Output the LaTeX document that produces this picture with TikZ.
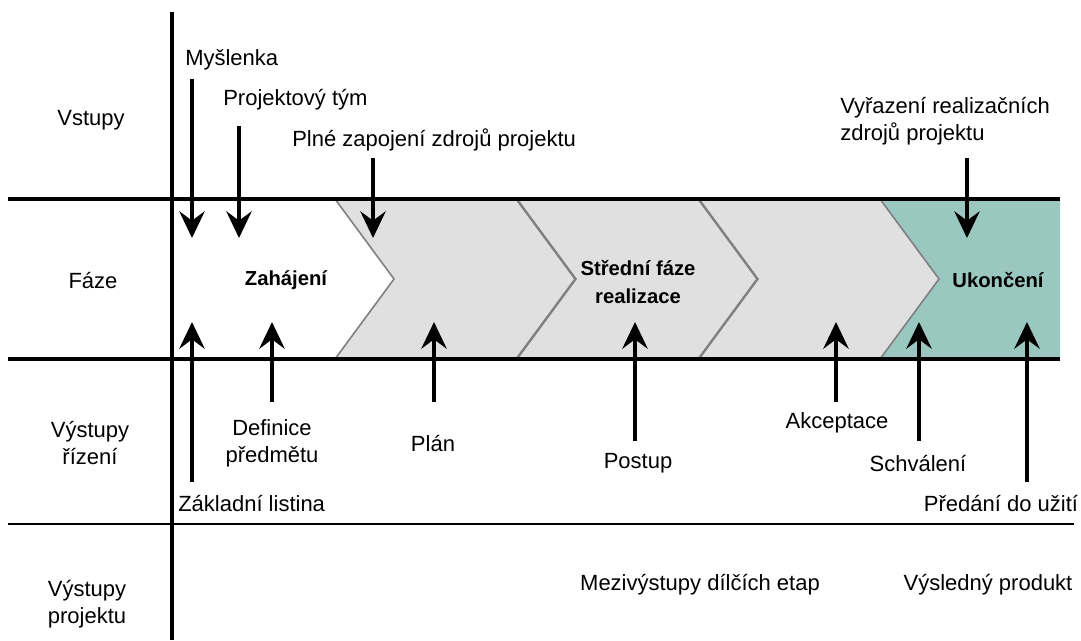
\documentclass[tikz,border=0pt]{standalone}
\usepackage{fontspec}
\setmainfont{Liberation Sans}
\usetikzlibrary{arrows.meta}
\definecolor{phasegray}{RGB}{224,224,224}
\definecolor{phaseedge}{RGB}{128,128,128}
\definecolor{phaseteal}{RGB}{154,199,191}
\tikzset{
  lbl/.style={inner sep=0pt, align=center, font=\fontsize{16.5}{20}\selectfont},
  phase/.style={inner sep=0pt, align=center, font=\fontsize{15.2}{21.5}\selectfont\bfseries},
  rule/.style={line width=3pt},
  arr/.style={line width=3pt, -{Stealth[length=20pt,width=19pt,inset=7pt]}},
}
\begin{document}
\begin{tikzpicture}[x=0.75pt,y=-0.75pt]
                    \useasboundingbox (0,0) rectangle (1081,640);

                    \fill [phaseteal] (880,199) -- (1060,199) -- (1060,359) -- (880,359) -- (939,279) -- cycle;
                    \foreach \x in {335,517,699}
                        \filldraw [fill=phasegray, draw=phaseedge, line width=1.2pt]
                            (\x,199) -- (\x+181,199) -- (\x+240,279) -- (\x+181,359) -- (\x,359) -- (\x+59,279) -- cycle;

                    \draw [rule] (8,199) -- (1060,199);
                    \draw [rule] (8,359) -- (1060,359);
                    \draw [line width=1.5pt] (8,524) -- (1074,524);
                    \draw [rule] (172,12) -- (172,640);

                    \node (vstupy) [lbl] at (91,120) {Vstupy};
                    \node (faze) [lbl] at (93,280) {Fáze};
                    \node (vyrizeni) [lbl] at (90,443) {Výstupy\\řízení};
                    \node (vyprojekt) [lbl] at (87,604) {Výstupy\\projektu};

                    \node (zahajeni) [phase] at (286,280) {Zahájení};
                    \node (stredni) [phase] at (638,282) {Střední fáze\\realizace};
                    \node (ukonceni) [phase] at (998,280) {Ukončení};

                    \node (myslenka) [lbl, anchor=west] at (185,60) {Myšlenka};
                    \node (tym) [lbl, anchor=west] at (223,100) {Projektový tým};
                    \node (zapojeni) [lbl, anchor=west] at (292,140) {Plné zapojení zdrojů projektu};
                    \node (vyrazeni) [lbl, anchor=west, align=left] at (840,121) {Vyřazení realizačních\\zdrojů projektu};

                    \node (definice) [lbl] at (272,443) {Definice\\předmětu};
                    \node (plan) [lbl] at (433,443) {Plán};
                    \node (postup) [lbl] at (638,463) {Postup};
                    \node (akceptace) [lbl] at (837,423) {Akceptace};
                    \node (schvaleni) [lbl] at (918,463) {Schválení};
                    \node (listina) [lbl, anchor=west] at (178,503) {Základní listina};
                    \node (predani) [lbl] at (1001,503) {Předání do užití};

                    \node (mezi) [lbl] at (700,585) {Mezivýstupy dílčích etap};
                    \node (produkt) [lbl] at (988,585) {Výsledný produkt};

                    \node (myslenka-s) [coordinate] at (192,79) {};
                    \node (myslenka-t) [coordinate] at (192,238) {};
                    \node (tym-s) [coordinate] at (239,126) {};
                    \node (tym-t) [coordinate] at (239,238) {};
                    \node (zapojeni-s) [coordinate] at (373,158) {};
                    \node (zapojeni-t) [coordinate] at (373,238) {};
                    \node (vyrazeni-s) [coordinate] at (967,158) {};
                    \node (vyrazeni-t) [coordinate] at (967,238) {};

                    \node (listina-s) [coordinate] at (192,482) {};
                    \node (listina-t) [coordinate] at (192,322) {};
                    \node (definice-s) [coordinate] at (272,402) {};
                    \node (definice-t) [coordinate] at (272,322) {};
                    \node (plan-s) [coordinate] at (434,402) {};
                    \node (plan-t) [coordinate] at (434,322) {};
                    \node (postup-s) [coordinate] at (635,441) {};
                    \node (postup-t) [coordinate] at (635,322) {};
                    \node (akceptace-s) [coordinate] at (836,402) {};
                    \node (akceptace-t) [coordinate] at (836,322) {};
                    \node (schvaleni-s) [coordinate] at (919,441) {};
                    \node (schvaleni-t) [coordinate] at (919,322) {};
                    \node (predani-s) [coordinate] at (1027,482) {};
                    \node (predani-t) [coordinate] at (1027,322) {};

                    \path [arr]
                        (myslenka-s) edge (myslenka-t)
                        (tym-s) edge (tym-t)
                        (zapojeni-s) edge (zapojeni-t)
                        (vyrazeni-s) edge (vyrazeni-t)
                        (listina-s) edge (listina-t)
                        (definice-s) edge (definice-t)
                        (plan-s) edge (plan-t)
                        (postup-s) edge (postup-t)
                        (akceptace-s) edge (akceptace-t)
                        (schvaleni-s) edge (schvaleni-t)
                        (predani-s) edge (predani-t)
                    ;
                \end{tikzpicture}
\end{document}
